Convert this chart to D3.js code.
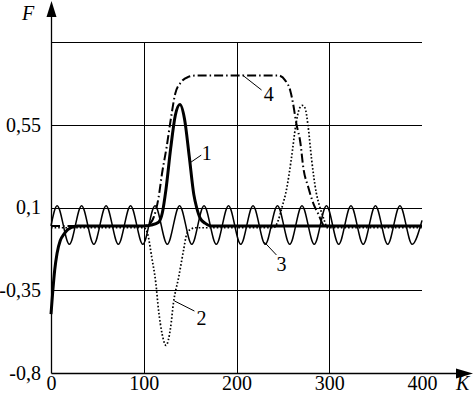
<!DOCTYPE html>
<html>
<head>
<meta charset="utf-8">
<script src="https://d3js.org/d3.v7.min.js"></script>
<style>
  body { margin: 0; background: #fff; }
</style>
</head>
<body>
<div id="viz"></div>
<script>

// x ticks and y ticks (comma decimals as in the original)
var xTicks = [0, 100, 200, 300, 400];
var yTicks = [-0.8, -0.35, 0.1, 0.55];
var yTickLabels = ["-0,8", "-0,35", "0,1", "0,55"];
var yGrid = [-0.35, 0.1, 0.55, 1.0];
var xGrid = [100, 200, 300];

// curve 1 (thick solid)
var k1 = [0, 2, 4, 6.5, 10, 14, 18, 22, 28, 40, 100, 108, 116, 120, 124, 129, 134, 139, 144, 149, 154, 157, 161, 166, 172, 180, 400];
var f1 = [-0.48, -0.35, -0.24, -0.15, -0.08, -0.045, -0.02, -0.008, 0, 0, 0, 0.005, 0.02, 0.07, 0.2, 0.42, 0.6, 0.66, 0.58, 0.38, 0.17, 0.1, 0.04, 0.015, 0, 0, 0];

// curve 2 (dotted)
var k2 = [0, 100, 104, 108.6, 113, 116, 119.7, 124, 129, 132, 137.6, 143, 146, 150, 156, 240, 245, 249, 254, 259, 264, 268, 271, 274, 277, 281, 286, 290, 294, 298, 400];
var f2 = [-0.01, -0.01, -0.04, -0.17, -0.31, -0.46, -0.585, -0.65, -0.55, -0.42, -0.28, -0.13, -0.05, -0.02, -0.01, -0.01, 0.03, 0.1, 0.2, 0.36, 0.55, 0.64, 0.655, 0.64, 0.55, 0.36, 0.18, 0.1, 0.04, -0.01, -0.01];

// curve 3 (thin oscillation)
var k3 = [0, 6.6, 19.8, 33, 46.2, 59.4, 72.6, 85.8, 99, 112.2, 125.4, 138.6, 151.8, 165, 178.2, 191.4, 204.6, 217.8, 231, 244.2, 257.4, 270.6, 283.8, 297, 310.2, 323.4, 336.6, 349.8, 363, 376.2, 389.4, 400];
var f3 = [0, 0.11, -0.1, 0.11, -0.1, 0.11, -0.1, 0.11, -0.1, 0.11, -0.1, 0.11, -0.1, 0.11, -0.1, 0.11, -0.1, 0.11, -0.1, 0.11, -0.1, 0.11, -0.1, 0.11, -0.1, 0.11, -0.1, 0.11, -0.1, 0.11, -0.1, 0.03];

// curve 4 (dash-dot)
var k4 = [0, 100, 106, 111, 116, 119.7, 124.7, 129, 134, 140, 148, 156, 245, 252.7, 258, 261, 264.5, 269, 272, 277.4, 283, 288, 295, 400];
var f4 = [0, 0, 0.01, 0.05, 0.155, 0.285, 0.43, 0.575, 0.72, 0.78, 0.81, 0.818, 0.818, 0.79, 0.735, 0.665, 0.557, 0.448, 0.318, 0.21, 0.12, 0.067, 0, 0];

// curve labels with leader lines (data units)
var labelNames = ["1", "2", "3", "4"];
var leaderFrom = [[151, 0.347], [133, -0.408], [230, -0.088], [206.5, 0.82]];
var leaderTo = [[162, 0.385], [154.6, -0.463], [243, -0.158], [227, 0.739]];
var labelAt = [[162.5, 0.36], [157, -0.54], [243, -0.245], [229.5, 0.68]];

var width = 474, height = 405;
var margin = {top: 42, right: 52, bottom: 32, left: 51};
var serif = "'Liberation Serif'";

var x = d3.scaleLinear().domain([0, 400]).range([margin.left, width - margin.right]);
var y = d3.scaleLinear().domain([-0.8, 1.0]).range([height - margin.bottom, margin.top]);

var svg = d3.select("#viz")
            .append("svg")
            .attr("width", width)
            .attr("height", height);

// grid
svg.append("g").selectAll("line")
    .data(yGrid)
  .enter().append("line")
    .attr("x1", x(0)).attr("x2", x(400))
    .attr("y1", function(d) { return Math.round(y(d)) + 0.5; })
    .attr("y2", function(d) { return Math.round(y(d)) + 0.5; })
    .style("stroke", "#000").style("stroke-width", 1);

svg.append("g").selectAll("line")
    .data(xGrid)
  .enter().append("line")
    .attr("x1", function(d) { return Math.round(x(d)) + 0.5; })
    .attr("x2", function(d) { return Math.round(x(d)) + 0.5; })
    .attr("y1", y(-0.8)).attr("y2", y(1.0))
    .style("stroke", "#000").style("stroke-width", 1);

var line = d3.line()
    .x(function(d) { return x(d[0]); })
    .y(function(d) { return y(d[1]); })
    .curve(d3.curveMonotoneX);

function pairs(ks, fs) { return ks.map(function(k, i) { return [k, fs[i]]; }); }

svg.append("path")
    .datum(pairs(k3, f3))
    .attr("d", line)
    .style("fill", "none").style("stroke", "#000").style("stroke-width", 1.5);

svg.append("path")
    .datum(pairs(k2, f2))
    .attr("d", line)
    .style("fill", "none").style("stroke", "#000").style("stroke-width", 1.7)
    .style("stroke-dasharray", "1.6,2");

svg.append("path")
    .datum(pairs(k4, f4))
    .attr("d", line)
    .style("fill", "none").style("stroke", "#000").style("stroke-width", 2)
    .style("stroke-dasharray", "9,3,1.5,3");

svg.append("path")
    .datum(pairs(k1, f1))
    .attr("d", line)
    .style("fill", "none").style("stroke", "#000").style("stroke-width", 3);

// axes
var xAxis = d3.axisBottom(x).tickValues(xTicks).tickSize(0).tickPadding(3);
var yAxis = d3.axisLeft(y).tickValues(yTicks).tickSize(0).tickPadding(10)
    .tickFormat(function(d, i) { return yTickLabels[i]; });

var gx = svg.append("g").attr("transform", "translate(0," + y(-0.8) + ")").call(xAxis);
var gy = svg.append("g").attr("transform", "translate(" + x(0) + ",0)").call(yAxis);
gx.select(".domain").remove();
gy.select(".domain").remove();
svg.selectAll(".tick text")
    .attr("fill", "#000")
    .attr("font-family", serif)
    .attr("font-size", 20);

var x0 = Math.round(x(0)) + 0.5, yb = Math.round(y(-0.8)) + 0.5;
svg.append("line").attr("x1", x0).attr("x2", x0).attr("y1", yb).attr("y2", 10)
    .style("stroke", "#000").style("stroke-width", 1.3);
svg.append("line").attr("x1", x0).attr("x2", 462).attr("y1", yb).attr("y2", yb)
    .style("stroke", "#000").style("stroke-width", 1.3);
svg.append("path").attr("d", "M" + x0 + ",1 L" + (x0 - 5) + ",17 L" + (x0 + 5) + ",17 Z").style("fill", "#000");
svg.append("path").attr("d", "M473," + yb + " L456," + (yb - 5) + " L456," + (yb + 5) + " Z").style("fill", "#000");

svg.append("text").attr("x", 22).attr("y", 20)
    .attr("font-family", serif).attr("font-size", 20).attr("font-style", "italic").text("F");
svg.append("text").attr("x", 456).attr("y", 390)
    .attr("font-family", serif).attr("font-size", 20).attr("font-style", "italic").text("K");

// curve labels
labelNames.forEach(function(name, i) {
  svg.append("line")
      .attr("x1", x(leaderFrom[i][0])).attr("y1", y(leaderFrom[i][1]))
      .attr("x2", x(leaderTo[i][0])).attr("y2", y(leaderTo[i][1]))
      .style("stroke", "#000").style("stroke-width", 1);
  svg.append("text")
      .attr("x", x(labelAt[i][0])).attr("y", y(labelAt[i][1]))
      .attr("font-family", serif).attr("font-size", 20)
      .text(name);
});

</script>
</body>
</html>
